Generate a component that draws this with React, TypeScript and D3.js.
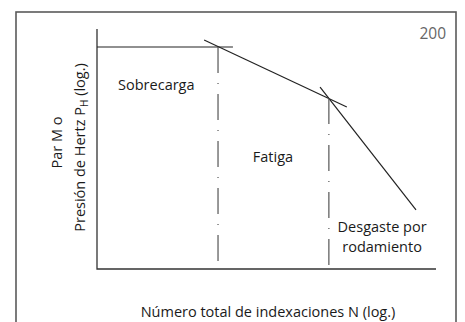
import React, { useEffect, useRef } from "react";
import * as d3 from "d3";

// values in arbitrary log units (0-100 on each axis)
const sobrecargaLine = [
  { n: 0, p: 92.5 },
  { n: 40.1, p: 92.5 },
];
const fatigaLine = [
  { n: 31.6, p: 95.4 },
  { n: 73.7, p: 67.5 },
];
const desgasteLine = [
  { n: 65.8, p: 75.8 },
  { n: 94.1, p: 24.6 },
];
// limits between the regions (dash-dot verticals)
const limits = [
  { n: 35.7, p: 92.5 },
  { n: 68.4, p: 71.25 },
];
const regionLabels = [
  { text: ["Sobrecarga"], n: 17.5, p: 74.5 },
  { text: ["Fatiga"], n: 51.9, p: 44.5 },
  { text: ["Desgaste por", "rodamiento"], n: 84.1, p: 15.4 },
];
const xTitle = "Número total de indexaciones N (log.)";
const yTitle1 = "Par M o";
const yTitle2 = ["Presión de Hertz P", "H", " (log.)"];
const figNumber = "200";

const W = 465;
const H = 322;

export default function App() {
  const ref = useRef<SVGSVGElement>(null);

  useEffect(() => {
    const svg = d3.select(ref.current);
    svg.selectAll("*").remove();

    const margin = { top: 29, left: 97, right: 29, bottom: 53 };
    const x = d3.scaleLinear().domain([0, 100]).range([margin.left, W - margin.right]);
    const y = d3.scaleLinear().domain([0, 100]).range([H - margin.bottom, margin.top]);
    const font = "'Open Sans', sans-serif";
    const fs = 14.5;
    const ink = "#1a1a1a";

    // outer frame
    svg
      .append("rect")
      .attr("x", 16)
      .attr("y", 12)
      .attr("width", 440)
      .attr("height", 340)
      .attr("fill", "none")
      .attr("stroke", "#5a5a5a")
      .attr("stroke-width", 1.6);

    const g = svg.append("g");

    // axes (no ticks)
    g.append("path")
      .attr("d", `M${x(0)},${y(100)}V${y(0)}H${x(100)}`)
      .attr("fill", "none")
      .attr("stroke", "#333")
      .attr("stroke-width", 1.3);

    const line = d3
      .line<{ n: number; p: number }>()
      .x((d) => x(d.n))
      .y((d) => y(d.p));

    [sobrecargaLine, fatigaLine, desgasteLine].forEach((pts) => {
      g.append("path")
        .attr("d", line(pts))
        .attr("fill", "none")
        .attr("stroke", "#222")
        .attr("stroke-width", 1.2);
    });

    g.selectAll(".limit")
      .data(limits)
      .join("line")
      .attr("class", "limit")
      .attr("x1", (d) => x(d.n))
      .attr("x2", (d) => x(d.n))
      .attr("y1", (d) => y(d.p))
      .attr("y2", y(0))
      .attr("stroke", "#555")
      .attr("stroke-width", 1.2)
      .attr("stroke-dasharray", "26 10 1 10");

    // region labels
    regionLabels.forEach((r) => {
      const t = g
        .append("text")
        .attr("x", x(r.n))
        .attr("y", y(r.p))
        .attr("text-anchor", "middle")
        .attr("font-family", font)
        .attr("font-size", fs)
        .attr("fill", ink);
      r.text.forEach((s, i) => {
        t.append("tspan").attr("x", x(r.n)).attr("dy", i === 0 ? 0 : 20).text(s);
      });
    });

    // x title
    svg
      .append("text")
      .attr("x", 268)
      .attr("y", 317)
      .attr("text-anchor", "middle")
      .attr("font-family", font)
      .attr("font-size", fs)
      .attr("fill", ink)
      .text(xTitle);

    // y title (two lines, rotated)
    svg
      .append("text")
      .attr("transform", "translate(62,142.5) rotate(-90)")
      .attr("text-anchor", "middle")
      .attr("font-family", font)
      .attr("font-size", fs)
      .attr("fill", ink)
      .text(yTitle1);

    const yt = svg
      .append("text")
      .attr("transform", "translate(85,147.5) rotate(-90)")
      .attr("text-anchor", "middle")
      .attr("font-family", font)
      .attr("font-size", fs)
      .attr("fill", ink);
    yt.append("tspan").text(yTitle2[0]);
    yt.append("tspan").attr("dy", 3).attr("font-size", 10).text(yTitle2[1]);
    yt.append("tspan").attr("dy", -3).text(yTitle2[2]);

    // figure number
    svg
      .append("text")
      .attr("x", 446)
      .attr("y", 39)
      .attr("text-anchor", "end")
      .attr("font-family", font)
      .attr("font-size", 15.5)
      .attr("fill", "#666")
      .text(figNumber);
  }, []);

  return (
    <svg
      ref={ref}
      width={W}
      height={H}
      style={{ position: "absolute", left: 0, top: 0, background: "#fff" }}
    />
  );
}
